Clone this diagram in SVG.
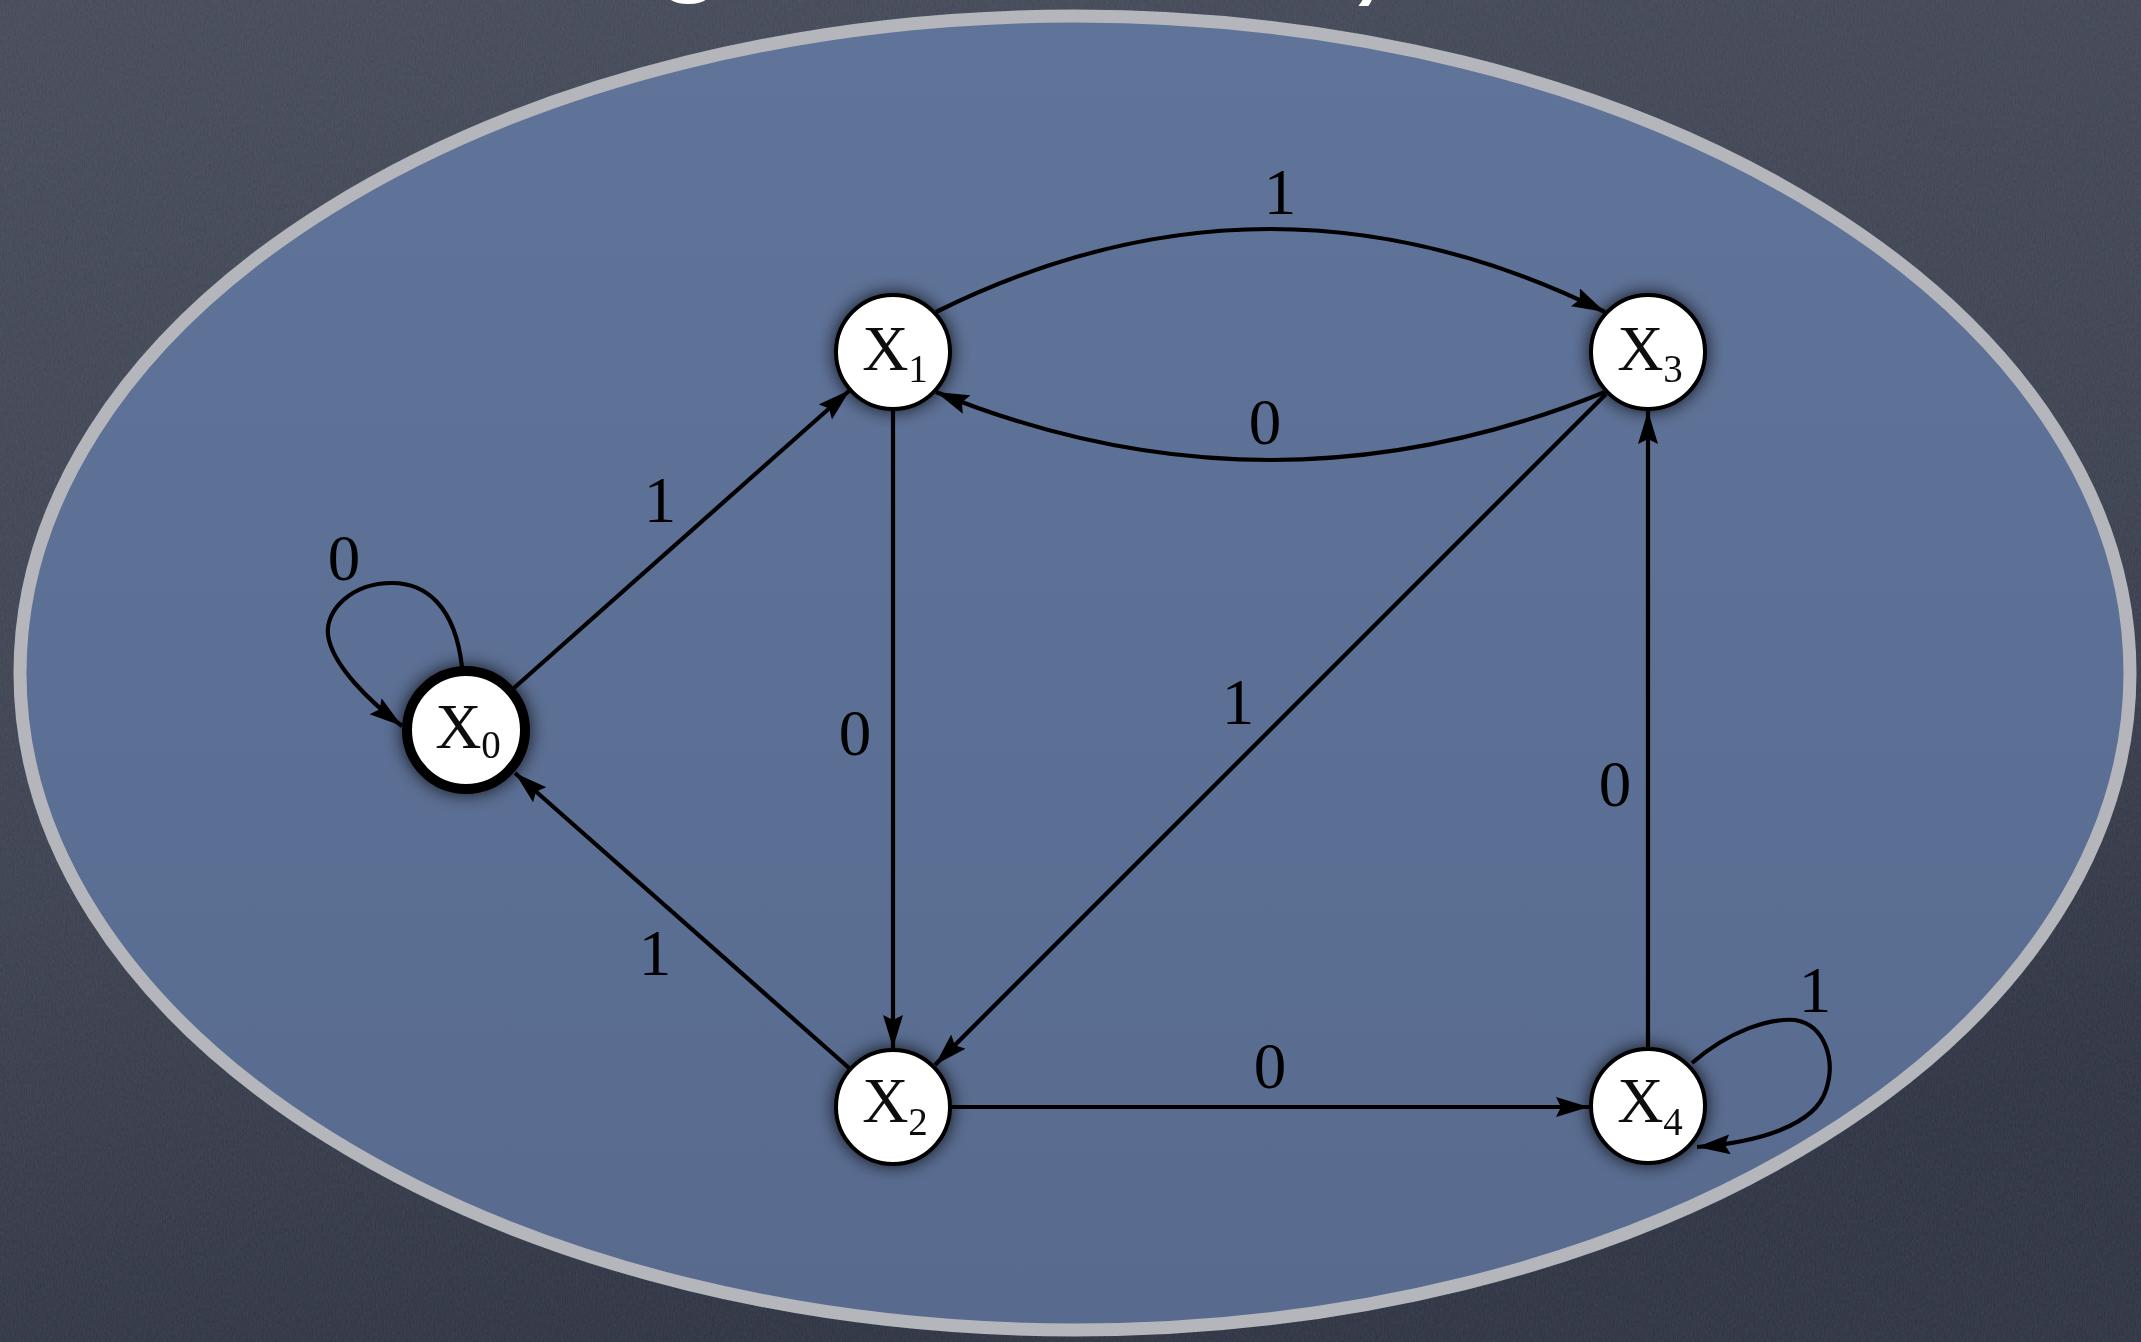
<svg xmlns="http://www.w3.org/2000/svg" width="2141" height="1342" viewBox="0 0 2141 1342">
  <style>
    .edge { fill: none; stroke: #000; stroke-width: 4.2; marker-end: url(#arrow); }
    .node circle { fill: #fff; stroke: #000; stroke-width: 4; }
    .node text { font-family: "Liberation Serif", "Times New Roman", serif; font-size: 64px; fill: #111; text-anchor: middle; }
    .node tspan { font-size: 39px; }
    .lbl { font-family: "Liberation Serif", "Times New Roman", serif; font-size: 65px; fill: #000; text-anchor: middle; }
    .title { font-family: "Liberation Sans", Arial, sans-serif; font-weight: bold; font-size: 110px; fill: #fff; }
  </style>
  <defs>
    <linearGradient id="board" x1="0" y1="0" x2="0.3" y2="1">
      <stop offset="0" stop-color="#434857"/>
      <stop offset="0.6" stop-color="#3a3f4e"/>
      <stop offset="1" stop-color="#2c3141"/>
    </linearGradient>
    <linearGradient id="plate" x1="0" y1="0" x2="0" y2="1">
      <stop offset="0" stop-color="#60749a"/>
      <stop offset="1" stop-color="#586b8f"/>
    </linearGradient>
    <filter id="grain" x="0" y="0" width="100%" height="100%">
      <feTurbulence type="fractalNoise" baseFrequency="0.9 0.25" numOctaves="2" seed="4"/>
      <feColorMatrix type="matrix" values="0 0 0 0 1  0 0 0 0 1  0 0 0 0 1  0 0 0 0.09 0"/>
      <feComposite in2="SourceGraphic" operator="in"/>
    </filter>
    <filter id="halo" x="-60%" y="-60%" width="220%" height="220%">
      <feGaussianBlur in="SourceAlpha" stdDeviation="9"/>
      <feComponentTransfer><feFuncA type="linear" slope="0.8"/></feComponentTransfer>
      <feMerge><feMergeNode/><feMergeNode in="SourceGraphic"/></feMerge>
    </filter>
    <marker id="arrow" markerUnits="userSpaceOnUse" markerWidth="36" markerHeight="22" refX="33" refY="10" orient="auto">
      <path d="M0,0 L33,10 L0,20 L5,10 z" fill="#000"/>
    </marker>
  </defs>

  <!-- board and backing plate -->
  <rect width="2141" height="1342" fill="url(#board)"/>
  <rect width="2141" height="1342" fill="#fff" filter="url(#grain)"/>
  <text class="title" x="656" y="-19">g</text>
  <text class="title" x="1351" y="-11">,</text>
  <ellipse cx="1075" cy="673" rx="1055" ry="657" fill="url(#plate)" stroke="#b4b6bc" stroke-width="13"/>

  <!-- transitions -->
  <g id="connectors">
    <path class="edge" d="M514,688 L850,390"/>
    <path class="edge" d="M936,312 Q1270,146 1605,312"/>
    <path class="edge" d="M1605,392 Q1270,528 936,392"/>
    <path class="edge" d="M893,411 L893,1048"/>
    <path class="edge" d="M1606,394 L935,1065"/>
    <path class="edge" d="M849,1068 L515,773"/>
    <path class="edge" d="M952,1107 L1589,1107"/>
    <path class="edge" d="M1648,1047 L1648,411"/>
    <path class="edge" d="M462,667 C455,605 425,583 392,583 C352,583 325,610 328,635 C332,665 370,702 402,726"/>
    <path class="edge" d="M1692,1063 C1730,1030 1770,1018 1795,1020 C1825,1025 1836,1060 1826,1090 C1815,1125 1760,1142 1697,1147"/>
  </g>

  <!-- transition labels -->
  <g id="labels">
    <text class="lbl" x="1280" y="214">1</text>
    <text class="lbl" x="1265" y="444">0</text>
    <text class="lbl" x="660" y="522">1</text>
    <text class="lbl" x="344" y="580">0</text>
    <text class="lbl" x="855" y="755">0</text>
    <text class="lbl" x="1238" y="724">1</text>
    <text class="lbl" x="1615" y="806">0</text>
    <text class="lbl" x="655" y="975">1</text>
    <text class="lbl" x="1270" y="1088">0</text>
    <text class="lbl" x="1815" y="1012">1</text>
  </g>

  <!-- states -->
  <g id="X0" class="node" filter="url(#halo)">
    <circle cx="466" cy="730" r="59" style="stroke-width:10"/>
    <text x="468" y="748">X<tspan dy="10">0</tspan></text>
  </g>
  <g id="X1" class="node" filter="url(#halo)">
    <circle cx="893" cy="352" r="57"/>
    <text x="895" y="370">X<tspan dy="12">1</tspan></text>
  </g>
  <g id="X3" class="node" filter="url(#halo)">
    <circle cx="1648" cy="352" r="57"/>
    <text x="1650" y="370">X<tspan dy="12">3</tspan></text>
  </g>
  <g id="X2" class="node" filter="url(#halo)">
    <circle cx="893" cy="1107" r="57"/>
    <text x="895" y="1122">X<tspan dy="13">2</tspan></text>
  </g>
  <g id="X4" class="node" filter="url(#halo)">
    <circle cx="1648" cy="1106" r="57"/>
    <text x="1650" y="1122">X<tspan dy="13">4</tspan></text>
  </g>
</svg>
